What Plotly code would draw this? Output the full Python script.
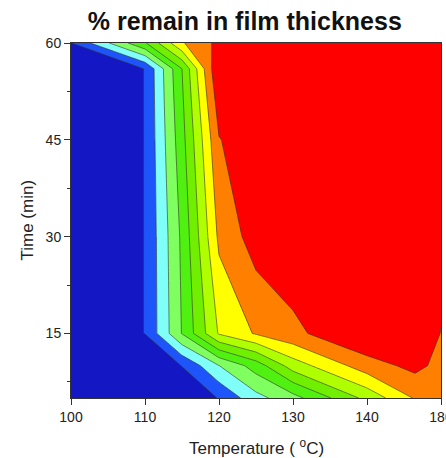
import plotly.graph_objects as go

# Tick labels of the temperature axis (equally spaced in the original chart)
temp_labels = [100, 110, 120, 130, 140, 180]
temp_tick_pos = [100, 110, 120, 130, 140, 150]

# Grid node positions along the temperature axis (axis units) and times (min)
x_nodes = [100, 110, 115, 120, 125, 130, 140, 146.5, 150]
time_nodes = [5, 10, 15, 30, 45, 56, 60]

# % remain in film thickness, one list per time row
z_t5 = [0, 0, 0, 10.6, 26.7, 36.3, 63, 81, 85]
z_t10 = [0, 0, 10.3, 29.8, 44.5, 64.8, 85.5, 92.8, 87]
z_t15 = [0, 10.2, 40.5, 71, 81, 87.5, 100, 104, 89.5]
z_t30 = [0, 10.2, 42, 82.1, 94.8, 98, 99, 99, 97]
z_t45 = [0, 10.2, 46.4, 89.5, 97, 99, 99, 99, 99]
z_t56 = [0, 10.2, 50, 100, 100, 100, 100, 100, 100]
z_t60 = [9.7, 49, 79, 92.7, 98, 99, 99, 99, 99]

band_colors = ["#1418C4", "#1E55FA", "#80FFF8", "#80FF60", "#50F010",
               "#70F000", "#B0FF00", "#FFFF00", "#FF8000", "#FF0000"]

# stepped colorscale (10 bands)
cs = []
n = len(band_colors)
for i, c in enumerate(band_colors):
    cs.append([i / n, c])
    cs.append([(i + 1) / n, c])

z = [z_t5, z_t10, z_t15, z_t30, z_t45, z_t56, z_t60]

fig = go.Figure(go.Contour(
    x=x_nodes, y=time_nodes, z=z,
    colorscale=cs, showscale=False,
    autocontour=False,
    contours=dict(start=10, end=90, size=10, coloring="fill"),
    line=dict(color="#333333", width=0.6, smoothing=0),
    hoverinfo="skip",
))

font_family = "Arial, Liberation Sans, sans-serif"
fig.update_layout(
    width=446, height=458,
    margin=dict(l=71, r=5, t=43, b=60),
    paper_bgcolor="white", plot_bgcolor="white",
    font=dict(family=font_family, color="#222222"),
    title=dict(text="<b>% remain in film thickness</b>", x=0.549, xanchor="center",
               y=0.954, yanchor="middle", font=dict(size=25, color="#111111")),
    showlegend=False,
    annotations=[
        dict(text="Temperature ( <sup>o</sup>C)", xref="paper", yref="paper",
             x=0.5, y=0, yshift=-49, xanchor="center", yanchor="middle",
             showarrow=False, font=dict(size=17)),
        dict(text="Time (min)", xref="paper", yref="paper", textangle=-90,
             x=0, y=0.5, xshift=-44, xanchor="center", yanchor="middle",
             showarrow=False, font=dict(size=17)),
    ],
)
fig.update_xaxes(
    range=[100, 150], tickvals=temp_tick_pos, ticktext=[str(t) for t in temp_labels],
    ticks="outside", ticklen=6, tickwidth=1, tickcolor="#333",
    showline=True, linecolor="#333", linewidth=1, mirror=True,
    showgrid=False, zeroline=False, tickfont=dict(size=14),
    ticklabeloverflow="allow", automargin=False,
)
fig.update_yaxes(
    range=[5, 60], tickvals=[15, 30, 45, 60],
    ticks="outside", ticklen=6, tickwidth=1, tickcolor="#333",
    minor=dict(tickvals=[7.5, 22.5, 37.5, 52.5], ticks="outside", ticklen=3, tickcolor="#333"),
    showline=True, linecolor="#333", linewidth=1, mirror=True,
    showgrid=False, zeroline=False, tickfont=dict(size=14), automargin=False,
)
fig.write_html("out.html", config={"displayModeBar": False},
               post_script="document.body.style.margin='0';")
